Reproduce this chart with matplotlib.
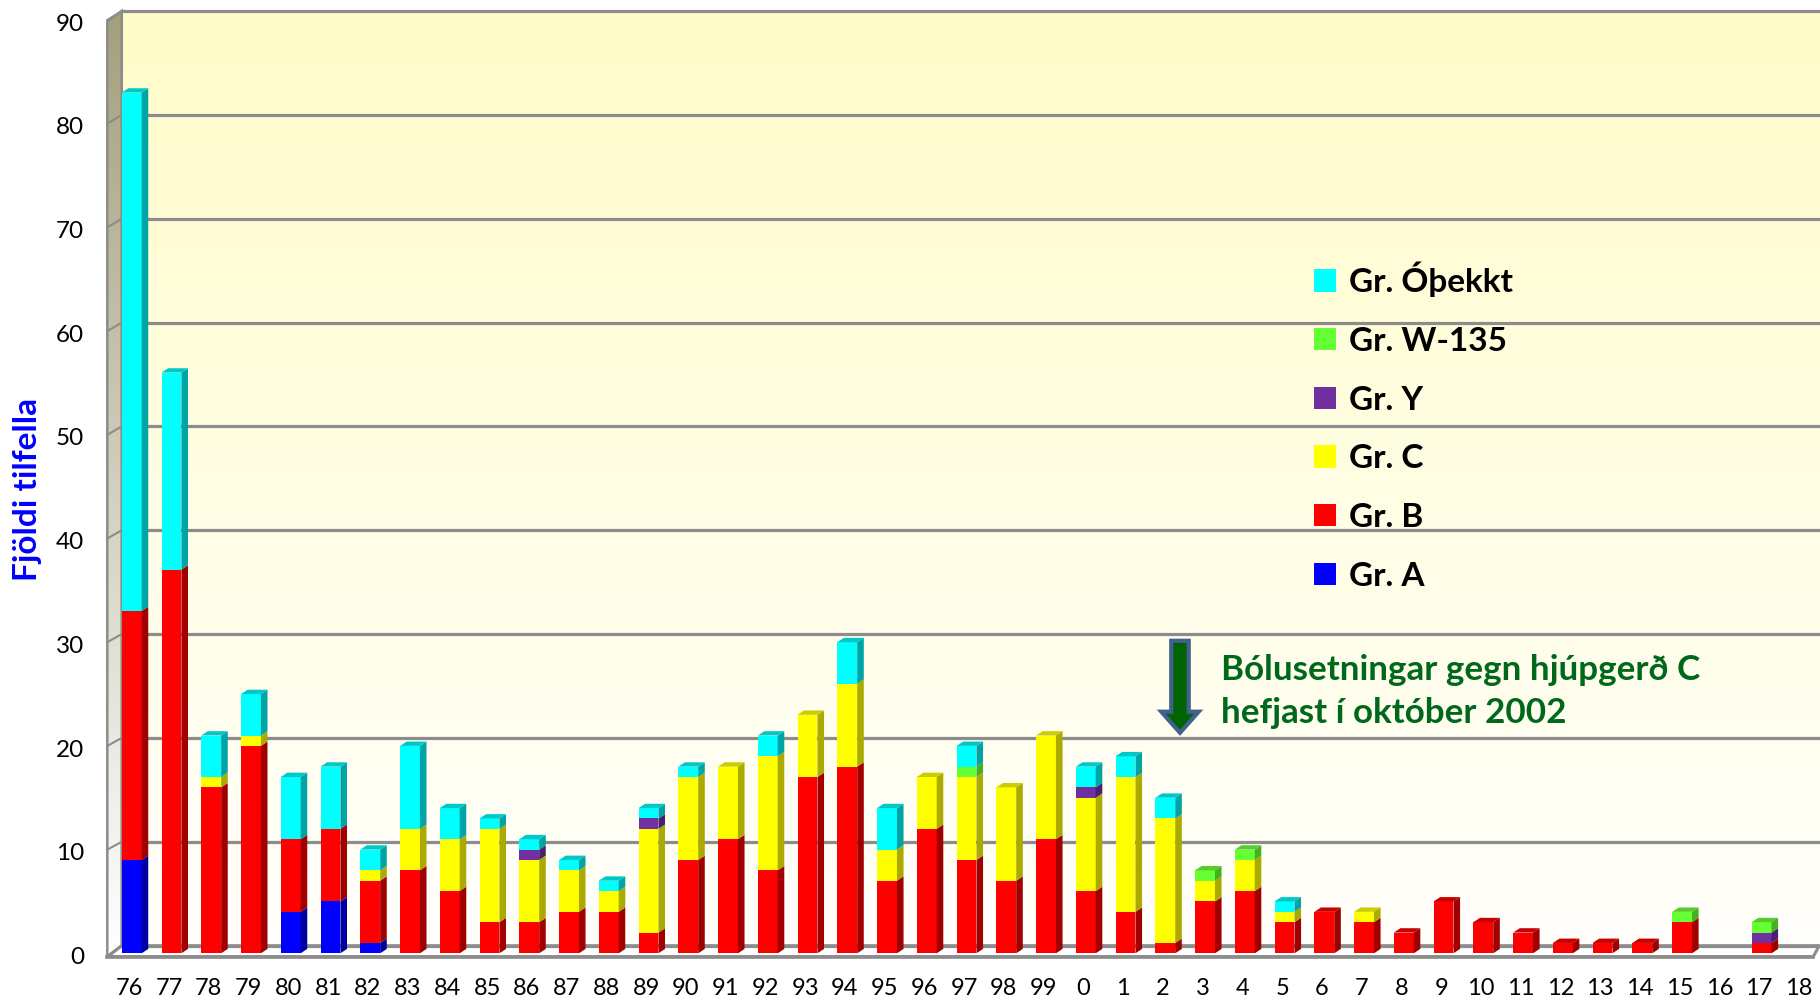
import matplotlib
matplotlib.use("Agg")
import matplotlib.pyplot as plt
from matplotlib.patches import Polygon, Rectangle, Patch
from matplotlib.colors import LinearSegmentedColormap
import numpy as np

# years on the x axis (1976-2018)
years = ['76', '77', '78', '79', '80', '81', '82', '83', '84', '85', '86', '87', '88',
         '89', '90', '91', '92', '93', '94', '95', '96', '97', '98', '99', '0', '1',
         '2', '3', '4', '5', '6', '7', '8', '9', '10', '11', '12', '13', '14', '15',
         '16', '17', '18']

# number of cases per serogroup, stacked bottom to top
gr_a = [9, 0, 0, 0, 4, 5, 1, 0, 0, 0, 0, 0, 0, 0, 0, 0, 0, 0, 0, 0, 0, 0, 0, 0, 0, 0,
        0, 0, 0, 0, 0, 0, 0, 0, 0, 0, 0, 0, 0, 0, 0, 0, 0]
gr_b = [24, 37, 16, 20, 7, 7, 6, 8, 6, 3, 3, 4, 4, 2, 9, 11, 8, 17, 18, 7, 12, 9, 7, 11,
        6, 4, 1, 5, 6, 3, 4, 3, 2, 5, 3, 2, 1, 1, 1, 3, 0, 1, 0]
gr_c = [0, 0, 1, 1, 0, 0, 1, 4, 5, 9, 6, 4, 2, 10, 8, 7, 11, 6, 8, 3, 5, 8, 9, 10,
        9, 13, 12, 2, 3, 1, 0, 1, 0, 0, 0, 0, 0, 0, 0, 0, 0, 0, 0]
gr_y = [0, 0, 0, 0, 0, 0, 0, 0, 0, 0, 1, 0, 0, 1, 0, 0, 0, 0, 0, 0, 0, 0, 0, 0,
        1, 0, 0, 0, 0, 0, 0, 0, 0, 0, 0, 0, 0, 0, 0, 0, 0, 1, 0]
gr_w135 = [0, 0, 0, 0, 0, 0, 0, 0, 0, 0, 0, 0, 0, 0, 0, 0, 0, 0, 0, 0, 0, 1, 0, 0,
           0, 0, 0, 1, 1, 0, 0, 0, 0, 0, 0, 0, 0, 0, 0, 1, 0, 1, 0]
gr_unknown = [50, 19, 4, 4, 6, 6, 2, 8, 3, 1, 1, 1, 1, 1, 1, 0, 2, 0, 4, 4, 0, 2, 0, 0,
              2, 2, 2, 0, 0, 1, 0, 0, 0, 0, 0, 0, 0, 0, 0, 0, 0, 0, 0]

series = [gr_a, gr_b, gr_c, gr_y, gr_w135, gr_unknown]
names = ['Gr. A', 'Gr. B', 'Gr. C', 'Gr. Y', 'Gr. W-135', 'Gr. Óþekkt']
front_col = ['#0000FF', '#FF0000', '#FFFF00', '#7030A0', '#66FF33', '#00FFFF']
side_col = ['#0000A0', '#A00000', '#AAAA00', '#4A2070', '#44B022', '#00A4A4']
top_col = ['#0000C8', '#C80000', '#CCCC00', '#5A2888', '#55CC2A', '#00C8C8']

yticks = [0, 10, 20, 30, 40, 50, 60, 70, 80, 90]

fig = plt.figure(figsize=(18.2, 10.02), dpi=100)
ax = fig.add_axes([0, 0, 1, 1])
ax.axis('off')

plt.rcParams['font.family'] = ['Lato', 'DejaVu Sans']

n = len(years)
x = np.arange(n)
xmin, xmax = -3.313, 42.47
ymin, ymax = -4.696, 91.93

# 3d look: back wall offset
wdx = 0.362
def back(v):
    return v * 1.0015 + 0.733

wl = -0.614  # front left edge of the side wall
gray = '#8C8C8C'

def gradient(poly, c_top, c_bot, y0, y1):
    cmap = LinearSegmentedColormap.from_list('g', [c_bot, c_top])
    grad = np.linspace(0, 1, 256).reshape(-1, 1)
    im = ax.imshow(grad, extent=[xmin, xmax, y0, y1], origin='lower', aspect='auto',
                   cmap=cmap, zorder=0)
    im.set_clip_path(poly)

# back wall
bw = Polygon([(wl + wdx, back(0)), (xmax + 1, back(0)), (xmax + 1, back(90)),
              (wl + wdx, back(90))], closed=True, facecolor='none', edgecolor='none')
ax.add_patch(bw)
gradient(bw, '#FFFCCA', '#FFFFFB', back(0), back(90))

# side wall
sw = Polygon([(wl, -0.33), (wl + wdx, back(0)), (wl + wdx, back(90)), (wl, 89.84)],
             closed=True, facecolor='none', edgecolor=gray, lw=1.8, zorder=2)
ax.add_patch(sw)
gradient(sw, '#A4A07C', '#FFFFFF', -0.33, back(90))

# floor
fl = Polygon([(wl, -0.33), (42.3, -0.33), (42.45, back(0)), (wl + wdx, back(0))],
             closed=True, facecolor='white', edgecolor=gray, lw=2.2, zorder=1)
ax.add_patch(fl)
ax.plot([wl, 42.3], [-0.33, -0.33], color=gray, lw=2.6, zorder=2)

# gridlines
for v in yticks:
    ax.plot([wl + wdx, xmax + 1], [back(v), back(v)], color=gray, lw=2.3, zorder=1)
    ax.plot([wl, wl + wdx], [v - 0.33 * (v == 0), back(v)], color=gray, lw=1.5, zorder=2)
ax.plot([wl + wdx, wl + wdx], [back(0), back(90)], color=gray, lw=1.5, zorder=2)

# bars with fake depth
bw2 = 0.25
dx, dy = 0.166, 0.42
bottom = np.zeros(n)
heights = np.sum(series, axis=0)
for k, vals in enumerate(series):
    for i in range(n):
        h = vals[i]
        if h == 0:
            continue
        b = bottom[i]
        t = b + h
        ax.add_patch(Rectangle((x[i] - bw2, b), 2 * bw2, h, facecolor=front_col[k],
                               edgecolor='none', zorder=3))
        ax.add_patch(Polygon([(x[i] + bw2, b), (x[i] + bw2 + dx, b + dy),
                              (x[i] + bw2 + dx, t + dy), (x[i] + bw2, t)],
                             closed=True, facecolor=side_col[k], edgecolor='none', zorder=3))
        if t == heights[i]:
            ax.add_patch(Polygon([(x[i] - bw2, t), (x[i] - bw2 + dx, t + dy),
                                  (x[i] + bw2 + dx, t + dy), (x[i] + bw2, t)],
                                 closed=True, facecolor=top_col[k], edgecolor='none',
                                 zorder=3))
    bottom += np.array(vals)

# tick labels
for v in yticks:
    ax.text(-1.2, v - 0.4, str(v), ha='right', va='center', fontsize=17.5, color='black')
for i in range(n):
    ax.text(x[i] - 0.06, -4.05, years[i], ha='center', va='baseline', fontsize=17,
            color='black')

ax.text(-2.63, 44.7, 'Fjöldi tilfella', rotation=90, ha='center', va='center',
        fontsize=24, fontweight='bold', color='#0000FF')

# legend (top entry first)
handles = [Patch(facecolor=front_col[k], edgecolor='none') for k in range(5, -1, -1)]
labels = [names[k] for k in range(5, -1, -1)]
ax.legend(handles, labels, loc='upper left', bbox_to_anchor=(0.722, 0.7387),
          bbox_transform=fig.transFigure, frameon=False, borderpad=0, borderaxespad=0,
          handlelength=0.65, handleheight=0.65, handletextpad=0.4, labelspacing=0.89,
          prop={'size': 24, 'weight': 'bold'})

# vaccination arrow and note, placed at 2002
ai = years.index('2') + 0.37
arrow = Polygon([(ai - 0.22, 30.14), (ai + 0.22, 30.14), (ai + 0.22, 23.3),
                 (ai + 0.47, 23.3), (ai, 21.27), (ai - 0.47, 23.3), (ai - 0.22, 23.3)],
                closed=True, facecolor='#006400', edgecolor='#41608F', lw=3, zorder=4)
ax.add_patch(arrow)
ax.text(27.4, 26.35, 'Bólusetningar gegn hjúpgerð C', ha='left', va='baseline',
        fontsize=25.2, fontweight='bold', color='#00681A')
ax.text(27.4, 22.2, 'hefjast í október 2002', ha='left', va='baseline',
        fontsize=25.2, fontweight='bold', color='#00681A')

ax.set_xlim(xmin, xmax)
ax.set_ylim(ymin, ymax)

plt.savefig('out.png', dpi=100)
